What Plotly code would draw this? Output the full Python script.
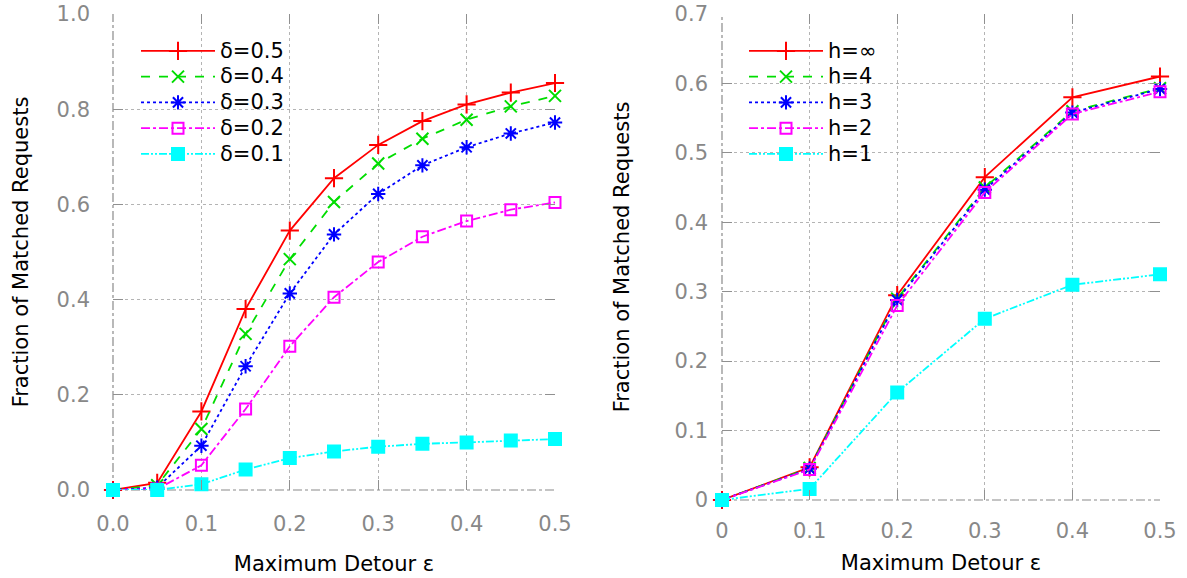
import plotly.graph_objects as go

# ---- data ----
eps_left = [0.0, 0.05, 0.1, 0.15, 0.2, 0.25, 0.3, 0.35, 0.4, 0.45, 0.5]
delta_names = ["δ=0.5", "δ=0.4", "δ=0.3", "δ=0.2", "δ=0.1"]
d05 = [0.0, 0.015, 0.165, 0.38, 0.545, 0.655, 0.725, 0.775, 0.81, 0.835, 0.855]
d04 = [0.0, 0.010, 0.128, 0.328, 0.485, 0.605, 0.686, 0.738, 0.778, 0.806, 0.828]
d03 = [0.0, 0.005, 0.093, 0.260, 0.413, 0.537, 0.622, 0.682, 0.720, 0.749, 0.772]
d02 = [0.0, 0.002, 0.052, 0.170, 0.302, 0.405, 0.479, 0.532, 0.565, 0.589, 0.604]
d01 = [0.0, 0.000, 0.012, 0.043, 0.067, 0.081, 0.091, 0.097, 0.100, 0.104, 0.107]

eps_right = [0.0, 0.1, 0.2, 0.3, 0.4, 0.5]
h_names = ["h=∞", "h=4", "h=3", "h=2", "h=1"]
hinf = [0.0, 0.047, 0.295, 0.465, 0.580, 0.610]
h4 = [0.0, 0.046, 0.290, 0.450, 0.560, 0.593]
h3 = [0.0, 0.045, 0.288, 0.447, 0.558, 0.592]
h2 = [0.0, 0.044, 0.280, 0.443, 0.556, 0.588]
h1 = [0.0, 0.016, 0.155, 0.261, 0.310, 0.325]

xl_ticks = [0.0, 0.1, 0.2, 0.3, 0.4, 0.5]
xl_text = ["0.0", "0.1", "0.2", "0.3", "0.4", "0.5"]
yl_ticks = [0.0, 0.2, 0.4, 0.6, 0.8, 1.0]
yl_text = ["0.0", "0.2", "0.4", "0.6", "0.8", "1.0"]
xr_ticks = [0.0, 0.1, 0.2, 0.3, 0.4, 0.5]
xr_text = ["0", "0.1", "0.2", "0.3", "0.4", "0.5"]
yr_ticks = [0.0, 0.1, 0.2, 0.3, 0.4, 0.5, 0.6, 0.7]
yr_text = ["0", "0.1", "0.2", "0.3", "0.4", "0.5", "0.6", "0.7"]

# ---- styles ----
styles = [
    dict(color="#ff0000", dash="solid", symbol="cross-thin", size=13),
    dict(color="#00dd00", dash="dash", symbol="x-thin", size=12),
    dict(color="#0000ff", dash="dot", symbol="asterisk", size=12),
    dict(color="#ff00ff", dash="dashdot", symbol="square-open", size=11),
    dict(color="#00ffff", dash="8px,2px,2px,2px,2px,2px", symbol="square", size=12),
]

FONT = "DejaVu Sans"
LEG_TXT = "<span style='font-size:21px'>{}</span>"
fig = go.Figure()

for name, ys, st in zip(delta_names, [d05, d04, d03, d02, d01], styles):
    fig.add_trace(go.Scatter(
        x=eps_left, y=ys, name=LEG_TXT.format(name), mode="lines+markers", cliponaxis=False,
        line=dict(color=st["color"], dash=st["dash"], width=1.8),
        marker=dict(symbol=st["symbol"], size=st["size"], color=st["color"],
                    line=dict(color=st["color"], width=2)),
        xaxis="x", yaxis="y", legend="legend"))

for name, ys, st in zip(h_names, [hinf, h4, h3, h2, h1], styles):
    fig.add_trace(go.Scatter(
        x=eps_right, y=ys, name=LEG_TXT.format(name), mode="lines+markers", cliponaxis=False,
        line=dict(color=st["color"], dash=st["dash"], width=1.8),
        marker=dict(symbol=st["symbol"], size=st["size"], color=st["color"],
                    line=dict(color=st["color"], width=2)),
        xaxis="x2", yaxis="y2", legend="legend2"))

W, H = 1187, 578
def px_x(p): return p / W
def px_y(p): return 1 - p / H

axis_common = dict(
    showgrid=True, gridcolor="#b4b4b4", griddash="dot", gridwidth=1,
    zeroline=False, showline=False, mirror="ticks",
    ticks="inside", ticklen=10, tickcolor="#909090", automargin=False,
    tickfont=dict(family=FONT, size=21, color="#888888"),
)
TF = dict(family=FONT, size=21, color="black")

fig.update_layout(
    width=W, height=H, autosize=False,
    margin=dict(l=0, r=0, t=0, b=0),
    paper_bgcolor="white", plot_bgcolor="white",
    font=dict(family=FONT, size=21, color="black"),
    xaxis=dict(domain=[px_x(113), px_x(555)], range=[0, 0.5], anchor="y",
               tickvals=xl_ticks, ticktext=xl_text, ticklabelstandoff=19,
               title=dict(text="Maximum Detour ε", font=TF, standoff=21),
               **axis_common),
    yaxis=dict(domain=[px_y(490), px_y(14)], range=[0, 1.0], anchor="x",
               tickvals=yl_ticks, ticktext=yl_text, ticklabelstandoff=22,
               title=dict(text="Fraction of Matched Requests", font=TF, standoff=22),
               **axis_common),
    xaxis2=dict(domain=[px_x(722), px_x(1160)], range=[0, 0.5], anchor="y2",
                tickvals=xr_ticks, ticktext=xr_text, ticklabelstandoff=16,
                title=dict(text="Maximum Detour ε", font=TF, standoff=13),
                **axis_common),
    yaxis2=dict(domain=[px_y(500), px_y(14)], range=[0, 0.7], anchor="x2",
                tickvals=yr_ticks, ticktext=yr_text, ticklabelstandoff=13,
                title=dict(text="Fraction of Matched Requests", font=TF, standoff=39),
                **axis_common),
    legend=dict(x=px_x(136), y=px_y(33), xanchor="left", yanchor="top",
                bgcolor="rgba(0,0,0,0)", itemwidth=74, tracegroupgap=0,
                font=dict(family=FONT, size=17.5, color="black")),
    legend2=dict(x=px_x(744), y=px_y(33), xanchor="left", yanchor="top",
                 bgcolor="rgba(0,0,0,0)", itemwidth=74, tracegroupgap=0,
                 font=dict(family=FONT, size=17.5, color="black")),
)

# gnuplot-style dash-dot border on the left and bottom edges
for xr, yr in (("x", "y"), ("x2", "y2")):
    for (x0, y0, x1, y1) in ((0, 0, 0, 1), (0, 0, 1, 0)):
        fig.add_shape(type="line", xref=f"{xr} domain", yref=f"{yr} domain",
                      x0=x0, y0=y0, x1=x1, y1=y1, layer="below",
                      line=dict(color="#8a8a8a", width=1.2, dash="dashdot"))

fig.write_html("out.html")
